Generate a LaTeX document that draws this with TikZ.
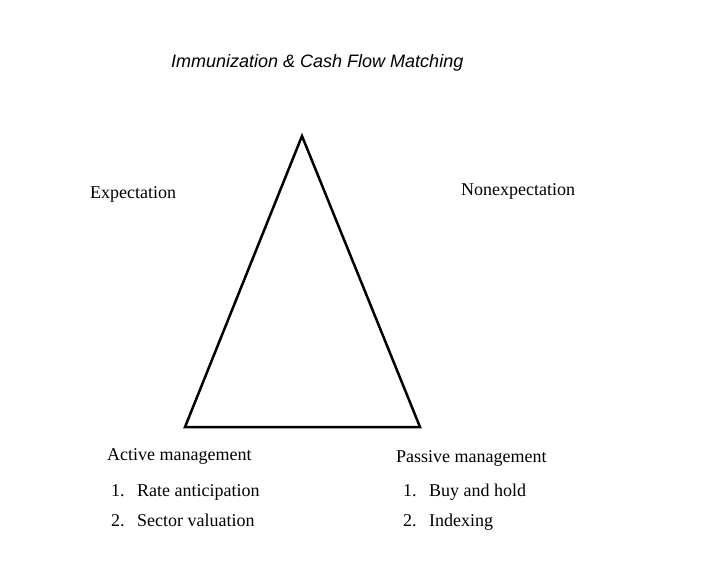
\documentclass[tikz,border=0pt]{standalone}
\usepackage{fontspec}
\setmainfont{Liberation Serif}
\newfontfamily\arialfont{Liberation Sans}
\begin{document}
\begin{tikzpicture}[x=1pt,y=-1pt,
  lbl/.style={anchor=base west,inner sep=0pt,font=\fontsize{18}{20}\selectfont},
  ttl/.style={anchor=base west,inner sep=0pt,font=\arialfont\itshape\fontsize{18}{20}\selectfont},
  tri/.style={draw=black,line width=2.5pt,line join=miter}]
\useasboundingbox (0,0) rectangle (705,568);
\node[ttl] (title) at (171,67) {Immunization \& Cash Flow Matching};
\coordinate (top) at (302,136);
\coordinate (bl) at (185,427);
\coordinate (br) at (420,427);
\draw[tri] (top) -- (bl) -- (br) -- cycle;
\node[lbl] (exp) at (90,198) {Expectation};
\node[lbl] (nonexp) at (461,195) {Nonexpectation};
\node[lbl] (active) at (107,460) {Active management};
\node[lbl] (an1) at (111,496) {1.};
\node[lbl] (at1) at (137,496) {Rate anticipation};
\node[lbl] (an2) at (111,526) {2.};
\node[lbl] (at2) at (137,526) {Sector valuation};
\node[lbl] (passive) at (396,462) {Passive management};
\node[lbl] (pn1) at (403,496) {1.};
\node[lbl] (pt1) at (429,496) {Buy and hold};
\node[lbl] (pn2) at (403,526) {2.};
\node[lbl] (pt2) at (429,526) {Indexing};
\end{tikzpicture}
\end{document}
